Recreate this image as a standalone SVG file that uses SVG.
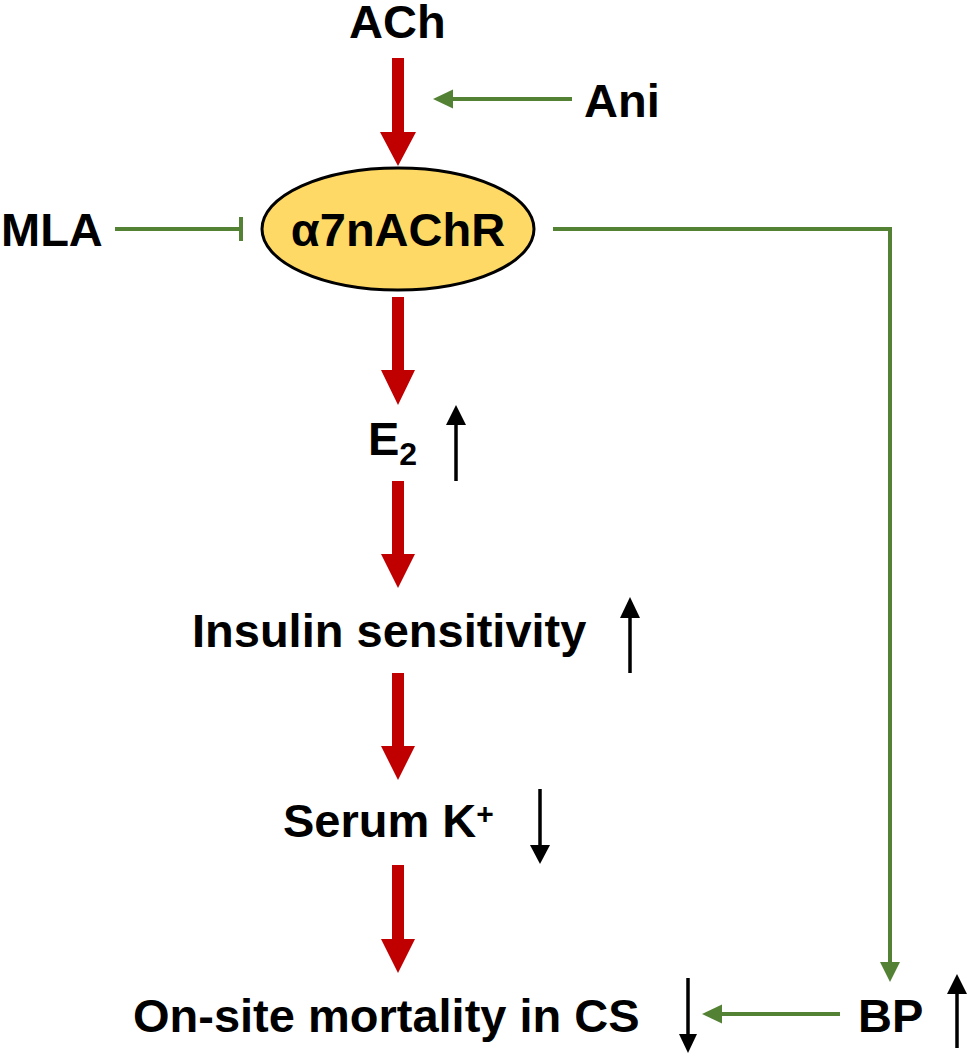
<svg xmlns="http://www.w3.org/2000/svg" width="968" height="1055" viewBox="0 0 968 1055">
<style>
text{font-family:"Liberation Sans",Arial,sans-serif;font-weight:bold;font-size:47px;fill:#000}
.red{fill:#C00000}
.g{stroke:#548235;stroke-width:4;fill:none}
.gh{fill:#548235}
.b{stroke:#000;stroke-width:3.5;fill:none}
.bh{fill:#000}
</style>
<rect width="968" height="1055" fill="#fff"/>
<g id="ACh"><text x="349" y="38" font-size="46">ACh</text></g>
<g id="Ani"><text x="584" y="117">Ani</text></g>
<g id="MLA"><text x="1" y="246">MLA</text></g>
<g id="a7nAChR">
<ellipse cx="398" cy="229" rx="136" ry="61" fill="#FFD966" stroke="#000" stroke-width="3"/>
<text x="398" y="246" text-anchor="middle">α7nAChR</text>
</g>
<g id="E2"><text x="368" y="455">E<tspan font-size="32" y="465">2</tspan></text></g>
<g id="Insulin"><text x="192" y="647">Insulin sensitivity</text></g>
<g id="Serum"><text x="283" y="837">Serum K<tspan font-size="30" y="824">+</tspan></text></g>
<g id="Mortality"><text x="133" y="1032">On-site mortality in CS</text></g>
<g id="BP"><text x="858" y="1032">BP</text></g>
<g id="connectors">
<path class="red" d="M392,58H404V132H416L398,166L380,132H392Z"/>
<path class="red" d="M392,297H404V370H415L398,405L381,370H392Z"/>
<path class="red" d="M392,481H404V554H415L398,588L381,554H392Z"/>
<path class="red" d="M392,673H404V746H415L398,780L381,746H392Z"/>
<path class="red" d="M392,865H404V939H415L398,973L381,939H392Z"/>
<line class="g" x1="572" y1="99" x2="450" y2="99"/>
<path class="gh" d="M433,99L453,89.5V108.5Z"/>
<line class="g" x1="115" y1="229" x2="241" y2="229"/>
<line class="g" x1="241" y1="217" x2="241" y2="241"/>
<polyline class="g" points="553,229 890,229 890,964"/>
<path class="gh" d="M890,982L880,962H900Z"/>
<line class="g" x1="840" y1="1014" x2="718" y2="1014"/>
<path class="gh" d="M702,1014L722,1004.5V1023.5Z"/>
<line class="b" x1="456" y1="420" x2="456" y2="481"/>
<path class="bh" d="M456,405L466,425H446Z"/>
<line class="b" x1="630" y1="612" x2="630" y2="673"/>
<path class="bh" d="M630,597L640,618H620Z"/>
<line class="b" x1="540" y1="789" x2="540" y2="848"/>
<path class="bh" d="M540,864L550,845H530Z"/>
<line class="b" x1="688" y1="978" x2="688" y2="1038"/>
<path class="bh" d="M688,1053L697,1034H679Z"/>
<line class="b" x1="957" y1="990" x2="957" y2="1048"/>
<path class="bh" d="M957,974L967,994H947Z"/>
</g>
</svg>
